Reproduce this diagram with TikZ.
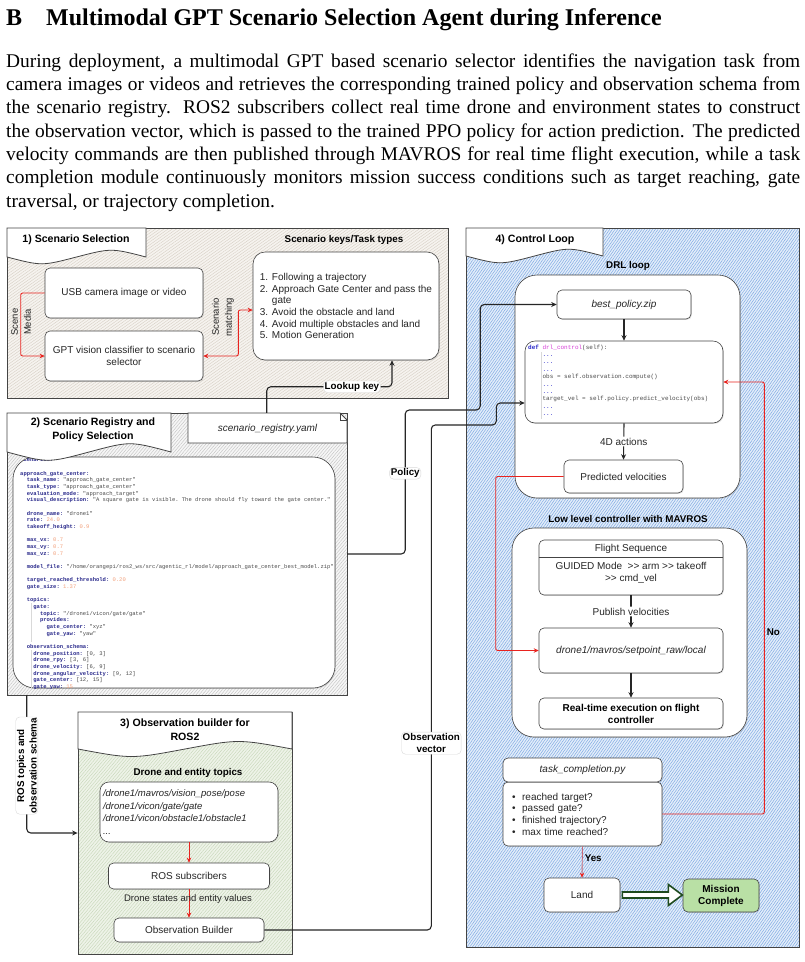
\documentclass[tikz,border=0pt]{standalone}
\usepackage{fontspec}
\setmainfont{Liberation Serif}
\setsansfont{Liberation Sans}
\setmonofont{Liberation Mono}
\usetikzlibrary{arrows.meta,positioning,calc,patterns.meta,shadows}
\definecolor{inkgrey}{HTML}{444444}
\definecolor{textgrey}{HTML}{262626}
\definecolor{sandbg}{HTML}{F6F3EF}
\definecolor{sandline}{HTML}{D8D1C7}
\definecolor{greybg}{HTML}{F6F6F6}
\definecolor{greyline}{HTML}{C4C4C4}
\definecolor{greenbg}{HTML}{EEF3E8}
\definecolor{greenline}{HTML}{C8D8BA}
\definecolor{bluebg}{HTML}{E3EEFA}
\definecolor{blueline}{HTML}{80A9E3}
\definecolor{flowred}{HTML}{E8231F}
\definecolor{yesred}{HTML}{C96A78}
\definecolor{okgreen}{HTML}{B9E0A5}
\definecolor{darkgreen}{HTML}{1E4A1E}
\definecolor{yamlkey}{HTML}{2B2B8C}
\definecolor{yamlstr}{HTML}{4A4A4A}
\definecolor{yamlnum}{HTML}{F2A07B}
\definecolor{pydef}{HTML}{2525C8}
\definecolor{pyfunc}{HTML}{D63CD6}
% fonts
\newcommand{\fntbox}{\sffamily\fontsize{10}{11.7}\selectfont}
\newcommand{\fntboxit}{\sffamily\itshape\fontsize{10}{11.7}\selectfont}
\newcommand{\fntboxbf}{\sffamily\bfseries\fontsize{10}{12}\selectfont}
\newcommand{\fnthead}{\sffamily\bfseries\fontsize{10.6}{14}\selectfont}
\newcommand{\fntsub}{\sffamily\bfseries\fontsize{9.8}{12.5}\selectfont}
\newcommand{\fnttopic}{\sffamily\itshape\fontsize{9.5}{12.7}\selectfont}
\newcommand{\fntyaml}{\ttfamily\fontsize{5.5}{6.67}\selectfont}
\newcommand{\fntpy}{\ttfamily\fontsize{6}{7.4}\selectfont}
% code colouring
\newcommand{\yk}[1]{\textcolor{yamlkey}{\bfseries #1}}
\newcommand{\yn}[1]{\textcolor{yamlnum}{#1}}
\newcommand{\yin}[1]{\hphantom{#1}}
\newcommand{\pydots}{\textcolor{pydef}{...}}
% title tab with wavy bottom: x1, x2, top, bottom, bulge
\newcommand{\wavetab}[5]{%
  \draw[tabline] (#1,#3) -- (#2,#3) -- (#2,#4)
    .. controls ({0.25*#1+0.75*#2},{#4-#5}) .. ({0.5*#1+0.5*#2},#4)
    .. controls ({0.75*#1+0.25*#2},{#4+#5}) .. (#1,#4) -- cycle;}

\begin{document}
\begin{tikzpicture}[x=1pt,y=-1pt,
  panel/.style={draw=inkgrey,line width=0.8pt,inner sep=0pt,
    drop shadow={shadow xshift=1.2pt,shadow yshift=-1.2pt,opacity=0.35}},
  sandpanel/.style={panel,preaction={fill=sandbg},
    pattern={Lines[angle=35,distance=2.4pt,line width=0.45pt]},pattern color=sandline},
  greypanel/.style={panel,preaction={fill=greybg},
    pattern={Lines[angle=50,distance=2.4pt,line width=0.45pt]},pattern color=greyline},
  greenpanel/.style={panel,preaction={fill=greenbg},
    pattern={Lines[angle=50,distance=2.4pt,line width=0.45pt]},pattern color=greenline},
  bluepanel/.style={panel,preaction={fill=bluebg},
    pattern={Lines[angle=55,distance=2.2pt,line width=0.5pt]},pattern color=blueline},
  tabline/.style={draw=inkgrey,fill=white,line width=0.8pt},
  plainbox/.style={draw=inkgrey,fill=white,rounded corners=5pt,line width=0.6pt,
    inner sep=2pt,align=center,font=\fntbox,text=textgrey,
    drop shadow={shadow xshift=0.9pt,shadow yshift=-0.9pt,opacity=0.25}},
  bigbox/.style={plainbox,rounded corners=22pt},
  flow/.style={draw=black!85,line width=1.1pt,rounded corners=4pt,
    -{Stealth[length=5.5pt,width=5pt]}},
  redflow/.style={draw=flowred,line width=0.9pt,rounded corners=2pt,
    -{Stealth[length=5pt,width=4.5pt]}},
  yesflow/.style={draw=yesred,line width=0.9pt,
    -{Stealth[length=5pt,width=4.5pt,color=flowred]}},
  bigarrow/.style={draw=darkgreen,fill=white,line width=1.6pt,line join=miter},
  lbl/.style={fill=white,draw=black!15,line width=0.4pt,inner sep=1.2pt,
    font=\fntsub,text=black,align=center},
  plainlbl/.style={fill=white,inner sep=1.2pt,font=\fntbox,text=textgrey},
  heading/.style={font=\fnthead,align=center,text=black,inner sep=0pt},
  sublabel/.style={font=\fntsub,text=black,inner sep=0pt},
  sidelabel/.style={font=\sffamily\fontsize{9.5}{13}\selectfont,text=textgrey,
    align=center,inner sep=0pt},
  codetext/.style={anchor=north west,inner sep=0pt,align=left},
  codeguide/.style={draw=black!15,line width=0.5pt}]

  \fill[white] (0,0) rectangle (805,962);
  \useasboundingbox (0,0) rectangle (805,962);

  % Section heading and text
  \node[anchor=base west,inner sep=0pt,font=\rmfamily\bfseries\fontsize{24}{28}\selectfont]
    (sechead) at (6,25) {B\hspace{24pt}Multimodal GPT Scenario Selection Agent during Inference};
  \node[anchor=north west,inner sep=0pt,text width=794pt,align=justify,
    font=\rmfamily\fontsize{19.4}{23.3}\selectfont] (intro) at (6,53.5)
    {During deployment, a multimodal GPT based scenario selector identifies the navigation task from\linebreak
     camera images or videos and retrieves the corresponding trained policy and observation schema from\linebreak
     the scenario registry.  ROS2 subscribers collect real time drone and environment states to construct\linebreak
     the observation vector, which is passed to the trained PPO policy for action prediction.  The predicted\linebreak
     velocity commands are then published through MAVROS for real time flight execution, while a task\linebreak
     completion module continuously monitors mission success conditions such as target reaching, gate\linebreak
     traversal, or trajectory completion.};

  % 1) Scenario selection
  \node[sandpanel,minimum width=441pt,minimum height=170pt] (scenpanel) at (227.5,313) {};
  \wavetab{7}{146}{228}{257}{9}
  \node[heading] (scentitle) at (76,240) {1) Scenario Selection};
  \node[sublabel] (keystitle) at (344,240) {Scenario keys/Task types};
  \node[plainbox,minimum width=158pt,minimum height=50pt] (usb) at (124,293) {USB camera image or video};
  \node[plainbox,minimum width=158pt,minimum height=50pt] (gpt) at (124,356) {GPT vision classifier to scenario\\selector};
  \node[plainbox,rounded corners=12pt,minimum width=186pt,minimum height=108pt,align=left] (keys) at (346,306)
    {1. Following a trajectory\\2. Approach Gate Center and pass the\\\hphantom{2. }gate\\3. Avoid the obstacle and land\\4. Avoid multiple obstacles and land\\5. Motion Generation};
  \draw[redflow] (usb.west) -- ++(-24,0) |- (gpt.west);
  \node[sidelabel,rotate=90] (medialbl) at (21,322) {Scene\\Media};
  \draw[redflow,{Stealth[length=5pt,width=4.5pt]}-{Stealth[length=5pt,width=4.5pt]}]
    (gpt.east) -- ++(35,0) |- ([yshift=-4pt]keys.west);
  \node[sidelabel,rotate=90] (matchlbl) at (223,317) {Scenario\\matching};

  % 2) Scenario registry
  \node[greypanel,minimum width=340pt,minimum height=282pt] (regpanel) at (177,554) {};
  \node[bigbox,minimum width=322pt,minimum height=231pt] (regcode) at (174,572.5) {};
  \begin{scope}
    \clip[rounded corners=22pt] (regcode.north west) rectangle (regcode.south east);
    \draw[codeguide] (31,603) -- (31,642);
    \draw[codeguide] (31,650) -- (31,690);
    \node[codetext,font=\fntyaml,text=yamlstr] (yaml) at (20,457.5)
      {\yk{scenarios:}\\
       \mbox{}\\
       \yk{approach\_gate\_center:}\\
       \yin{xx}\yk{task\_name:} "approach\_gate\_center"\\
       \yin{xx}\yk{task\_type:} "approach\_gate\_center"\\
       \yin{xx}\yk{evaluation\_mode:} "approach\_target"\\
       \yin{xx}\yk{visual\_description:} "A square gate is visible. The drone should fly toward the gate center."\\
       \mbox{}\\
       \yin{xx}\yk{drone\_name:} "drone1"\\
       \yin{xx}\yk{rate:} \yn{24.0}\\
       \yin{xx}\yk{takeoff\_height:} \yn{0.9}\\
       \mbox{}\\
       \yin{xx}\yk{max\_vx:} \yn{0.7}\\
       \yin{xx}\yk{max\_vy:} \yn{0.7}\\
       \yin{xx}\yk{max\_vz:} \yn{0.7}\\
       \mbox{}\\
       \yin{xx}\yk{model\_file:} "/home/orangepi/ros2\_ws/src/agentic\_rl/model/approach\_gate\_center\_best\_model.zip"\\
       \mbox{}\\
       \yin{xx}\yk{target\_reached\_threshold:} \yn{0.20}\\
       \yin{xx}\yk{gate\_size:} \yn{1.37}\\
       \mbox{}\\
       \yin{xx}\yk{topics:}\\
       \yin{xxxx}\yk{gate:}\\
       \yin{xxxxxx}\yk{topic:} "/drone1/vicon/gate/gate"\\
       \yin{xxxxxx}\yk{provides:}\\
       \yin{xxxxxxxx}\yk{gate\_center:} "xyz"\\
       \yin{xxxxxxxx}\yk{gate\_yaw:} "yaw"\\
       \mbox{}\\
       \yin{xx}\yk{observation\_schema:}\\
       \yin{xxxx}\yk{drone\_position:} [0, 3]\\
       \yin{xxxx}\yk{drone\_rpy:} [3, 6]\\
       \yin{xxxx}\yk{drone\_velocity:} [6, 9]\\
       \yin{xxxx}\yk{drone\_angular\_velocity:} [9, 12]\\
       \yin{xxxx}\yk{gate\_center:} [12, 15]\\
       \yin{xxxx}\yk{gate\_yaw:} \yn{15}};
  \end{scope}
  \wavetab{7}{171}{413}{452}{11}
  \node[heading] (regtitle) at (93,430) {2) Scenario Registry and\\Policy Selection};
  \draw[tabline] (188,413) -- (340,413) -- (347,420) -- (347,443) -- (188,443) -- cycle;
  \draw[inkgrey,line width=0.6pt] (340,413) -- (340,420) -- (347,420);
  \node[font=\fntboxit,text=textgrey] (regfile) at (267.5,429) {scenario\_registry.yaml};

  % 3) Observation builder
  \node[greenpanel,minimum width=214pt,minimum height=242pt] (obspanel) at (185,833) {};
  \wavetab{78}{292}{712}{749}{10}
  \node[heading] (obstitle) at (185,730) {3) Observation builder for\\ROS2};
  \node[sublabel] (topicstitle) at (188,773) {Drone and entity topics};
  \node[plainbox,rounded corners=9pt,minimum width=178pt,minimum height=60pt,align=left,
    text width=172pt,inner xsep=3pt,font=\fnttopic] (topics) at (189,812)
    {/drone1/mavros/vision\_pose/pose\\/drone1/vicon/gate/gate\\/drone1/vicon/obstacle1/obstacle1\\...};
  \node[plainbox,minimum width=161pt,minimum height=26pt] (rossub) at (189,876) {ROS subscribers};
  \node[plainbox,minimum width=150pt,minimum height=24pt] (obsb) at (189,930) {Observation Builder};
  \draw[redflow] (topics.south) -- (rossub.north);
  \draw[redflow] (rossub.south) -- (obsb.north);
  \node[sidelabel] (statelbl) at (188,899) {Drone states and entity values};

  % 4) Control loop
  \node[bluepanel,minimum width=333pt,minimum height=719pt] (ctrlpanel) at (632.5,587.5) {};
  \wavetab{466}{603}{228}{256}{9}
  \node[heading] (ctrltitle) at (535,240) {4) Control Loop};
  \node[sublabel] (drltitle) at (628,266) {DRL loop};
  \node[bigbox,minimum width=225pt,minimum height=223pt] (drlbox) at (627.5,386.5) {};
  \node[plainbox,minimum width=134pt,minimum height=29pt,font=\fntboxit] (best) at (624,304.5) {best\_policy.zip};
  \node[plainbox,rounded corners=10pt,minimum width=198pt,minimum height=82pt] (code) at (624,382) {};
  \draw[codeguide] (541,352) -- (541,419);
  \node[codetext,font=\fntpy,text=yamlstr] (pycode) at (528,344.5)
    {\textcolor{pydef}{\bfseries def} \textcolor{pyfunc}{drl\_control}(self):\\
     \yin{xxxx}\pydots\\
     \yin{xxxx}\pydots\\
     \yin{xxxx}\pydots\\
     \yin{xxxx}obs = self.observation.compute()\\
     \yin{xxxx}\pydots\\
     \yin{xxxx}\pydots\\
     \yin{xxxx}target\_vel = self.policy.predict\_velocity(obs)\\
     \yin{xxxx}\pydots\\
     \yin{xxxx}\pydots};
  \node[plainbox,minimum width=119pt,minimum height=33pt] (pv) at (623.5,476.5) {Predicted velocities};
  \draw[flow] (best.south) -- (code.north);
  \draw[flow] (code.south) -- node[plainlbl] (actlbl) {4D actions} (pv.north);

  \node[sublabel] (mavtitle) at (628,519) {Low level controller with MAVROS};
  \node[bigbox,minimum width=235pt,minimum height=209pt] (mavbox) at (629.5,632.5) {};
  \node[plainbox,minimum width=184pt,minimum height=55pt] (fs) at (631,567.5) {};
  \draw[inkgrey,line width=0.6pt] ([yshift=-18pt]fs.north west) -- ([yshift=-18pt]fs.north east);
  \node[inner sep=0pt,font=\fntbox,text=textgrey] (fshead) at ([yshift=-9pt]fs.north) {Flight Sequence};
  \node[inner sep=0pt,font=\fntbox,text=textgrey,align=center] (fsbody) at ([yshift=-5.5pt]fs.center)
    {GUIDED Mode\ \ >{}> arm >{}> takeoff\\>{}> cmd\_vel};
  \node[plainbox,minimum width=184pt,minimum height=45pt,font=\fntboxit] (sp) at (631,650.5) {drone1/mavros/setpoint\_raw/local};
  \node[plainbox,minimum width=184pt,minimum height=31pt,font=\fntboxbf,text=black] (rt) at (631,713.5) {Real-time execution on flight\\controller};
  \draw[flow] (fs.south) -- node[plainlbl] (publbl) {Publish velocities} (sp.north);
  \draw[flow] (sp.south) -- (rt.north);
  \draw[redflow] (pv.west) -- ++(-68,0) |- (sp.west);

  % Task completion check
  \node[plainbox,minimum width=159pt,minimum height=64pt,align=left,text width=141pt,inner xsep=9pt] (tcb) at (582.5,814)
    {\textbullet\ \ reached target?\\\textbullet\ \ passed gate?\\\textbullet\ \ finished trajectory?\\\textbullet\ \ max time reached?};
  \node[plainbox,minimum width=159pt,minimum height=24pt,font=\fntboxit] (tch) at (582.5,770) {task\_completion.py};
  \draw[redflow] (tcb.east) -- ++(102,0) |- node[pos=0.21,right=2pt,sublabel] (nolbl) {No} (code.east);
  \node[plainbox,minimum width=76pt,minimum height=34pt] (land) at (582,895) {Land};
  \node[plainbox,fill=okgreen,minimum width=76pt,minimum height=33pt,font=\fntboxbf,text=black] (done) at (721,895.5) {Mission\\Complete};
  \draw[yesflow] (tcb.south) -- node[pos=0.38,right=2pt,sublabel] (yeslbl) {Yes} (land.north);
  \draw[bigarrow] ([xshift=2pt]land.east) ++(0,-3) -- ++(46,0) -- ++(0,-7.5) -- ++(14,10.5)
    -- ++(-14,10.5) -- ++(0,-7.5) -- ++(-46,0) -- cycle;

  % Connectors between panels
  \draw[flow] ([xshift=260pt]regpanel.north west) -- ++(0,-26)
    -| node[pos=0.34,lbl] (lookuplbl) {Lookup key} ([xshift=46pt]keys.south);
  \draw[flow] (regpanel.east) -- ++(58,0) -- ++(0,-144) node[pos=0.56,lbl] (policylbl) {Policy}
    -- ++(75,0) |- (best.west);
  \coordinate (obsy) at (0,403);
  \draw[flow] (obsb.east) -- ++(167,0) -- ++(0,-505) node[pos=0.37,lbl] (obsvlbl) {Observation\\vector}
    -- ++(65,0) |- (code.west |- obsy);
  \draw[flow] ([xshift=20pt]regpanel.south west) |- node[pos=0.25,lbl,rotate=90,xshift=-1.5pt] (roslbl)
    {ROS topics and\\observation schema} (obspanel.west);
\end{tikzpicture}
\end{document}
